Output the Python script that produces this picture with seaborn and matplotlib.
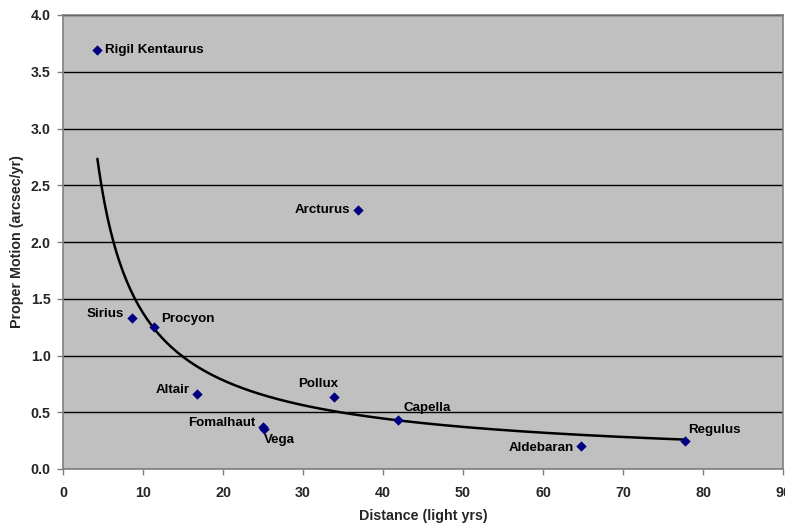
import numpy as np
import pandas as pd
import matplotlib
matplotlib.use("Agg")
import matplotlib.pyplot as plt
import seaborn as sns

stars = ["Rigil Kentaurus", "Sirius", "Procyon", "Altair", "Fomalhaut", "Vega",
         "Pollux", "Arcturus", "Capella", "Aldebaran", "Regulus"]
distance = [4.3, 8.6, 11.4, 16.8, 25.0, 25.1, 33.9, 36.9, 41.9, 64.8, 77.7]
motion = [3.69, 1.33, 1.25, 0.66, 0.37, 0.35, 0.63, 2.28, 0.43, 0.20, 0.25]
x_ticks = [0, 10, 20, 30, 40, 50, 60, 70, 80, 90]
y_ticks = [0.0, 0.5, 1.0, 1.5, 2.0, 2.5, 3.0, 3.5, 4.0]

# label offsets in pixels (dx, dy, ha, va)
offsets = {
    "Rigil Kentaurus": (8, 0, "left", "center"),
    "Sirius": (-8, 4, "right", "center"),
    "Procyon": (7, 8, "left", "center"),
    "Altair": (-8, 4, "right", "center"),
    "Fomalhaut": (-8, 4, "right", "center"),
    "Vega": (0, -11, "left", "center"),
    "Pollux": (-16, 13, "center", "center"),
    "Arcturus": (-8, 0, "right", "center"),
    "Capella": (5, 12, "left", "center"),
    "Aldebaran": (-7, -2, "right", "center"),
    "Regulus": (4, 11, "left", "center"),
}

df = pd.DataFrame({"star": stars, "distance": distance, "motion": motion})

sns.set_style("white")
plt.rcParams["font.family"] = ["Liberation Sans", "DejaVu Sans"]
plt.rcParams["font.weight"] = "bold"

fig = plt.figure(figsize=(7.85, 5.29), dpi=100)
W, H = 785, 529
ax = fig.add_axes([63 / W, (H - 469) / H, (783 - 63) / W, (469 - 15) / H])
ax.set_facecolor("#C0C0C0")

# power trendline (least squares on logs, as Excel does)
lx = np.log(df["distance"].values)
ly = np.log(df["motion"].values)
b, lna = np.polyfit(lx, ly, 1)
xs = np.linspace(df["distance"].min(), df["distance"].max(), 300)
trend = pd.DataFrame({"x": xs, "y": np.exp(lna) * xs ** b})
sns.lineplot(data=trend, x="x", y="y", ax=ax, color="black", linewidth=1.8, zorder=3)

sns.scatterplot(data=df, x="distance", y="motion", ax=ax, marker="D", s=28,
                color="#000080", edgecolor="#000080", linewidth=0, zorder=4)

for s, xv, yv in zip(stars, distance, motion):
    dx, dy, ha, va = offsets[s]
    ax.annotate(s, (xv, yv), xytext=(dx, dy), textcoords="offset pixels",
                ha=ha, va=va, fontsize=9.6, fontweight="bold", color="black", zorder=5)

ax.set_xlim(0, 90)
ax.set_ylim(0, 4.0)
ax.set_xticks(x_ticks)
ax.set_yticks(y_ticks)
ax.set_xticklabels([str(t) for t in x_ticks], fontsize=10.3, fontweight="bold")
ax.set_yticklabels([f"{t:.1f}" for t in y_ticks], fontsize=10.3, fontweight="bold")
ax.yaxis.grid(True, color="black", linewidth=1.0)
ax.xaxis.grid(False)
ax.set_axisbelow(True)
ax.tick_params(axis="y", direction="out", length=4, width=1, color="#808080", left=True, pad=5)
ax.tick_params(axis="x", direction="out", length=4, width=1, color="#808080", bottom=True, pad=8)
for side in ["left", "bottom", "top", "right"]:
    ax.spines[side].set_visible(True)
    ax.spines[side].set_color("#808080")
    ax.spines[side].set_linewidth(1.2)

ax.set_xlabel("Distance (light yrs)", fontsize=10.3, fontweight="bold", labelpad=10)
ax.set_ylabel("Proper Motion (arcsec/yr)", fontsize=10.3, fontweight="bold", labelpad=10)
ax.xaxis.set_label_coords((423 - 63) / 720, -(516 - 469) / 454)
ax.yaxis.set_label_coords(-(63 - 17) / 720, (469 - 242) / 454)
ax.xaxis.label.set_va("center")
ax.yaxis.label.set_va("center")

fig.savefig("out.png", dpi=100, facecolor="white")
